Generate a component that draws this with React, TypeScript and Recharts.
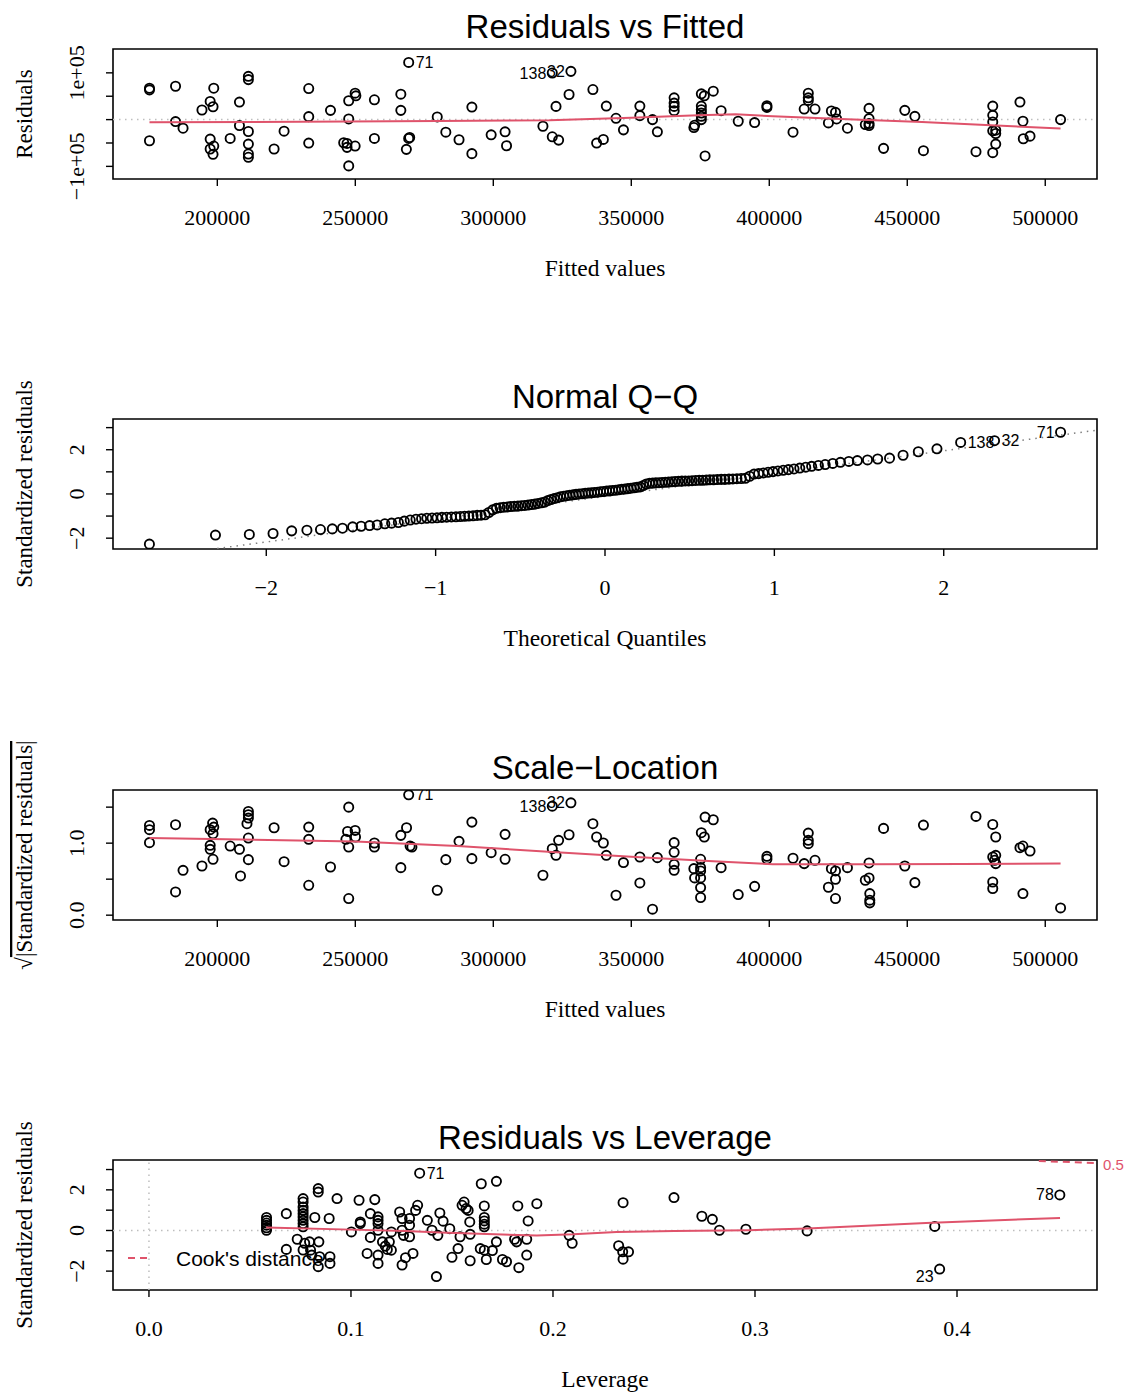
import React from 'react';
import { ScatterChart, Scatter, XAxis, YAxis, ReferenceLine, ReferenceArea } from 'recharts';

const SERIF = '"Liberation Serif", "Times New Roman", serif';
const SANS = '"Liberation Sans", Arial, sans-serif';
const RED = '#DF536B';

// ---------- Panel 1: Residuals vs Fitted ----------
const fittedTicks = [200000, 250000, 300000, 350000, 400000, 450000, 500000];
const residTicks = [-100000, -50000, 0, 50000, 100000];
const residPoints: [number, number][] = [
  [175420, 67137], [175420, 63603], [175420, -45229],
  [184864, 71377], [184864, -4240], [187580, -18374],
  [194437, 20494], [197413, 38869], [198706, 67137], [198447, 27564], [197413, -41695], [197413, -62896], [198706, -56536], [198447, -74204],
  [204657, -40282], [208021, 37455], [208021, -12721],
  [211255, 92578], [211255, 85511], [211255, -25441], [211255, -52296], [211255, -73497], [211255, -80564],
  [220570, -62896], [224192, -24735],
  [233119, 6360], [233119, 66430], [233119, -50176],
  [241010, 19788],
  [247609, 40282], [247609, 1413], [245800, -49469], [247000, -50883], [247000, -59363], [249936, -56536], [247609, -98938], [249936, 56536], [250200, 50883],
  [256922, 42402], [256922, -40282],
  [266496, 54416], [266496, 19788], [268500, -63603], [269342, -40282], [269700, -38162],
  [279692, 5654], [282796, -26855], [287583, -43109], [292240, 26855], [292240, -72790],
  [299226, -32508], [304272, -26148], [304800, -55830],
  [317985, -14134], [321374, -36748], [322724, 28268], [323670, -43816], [327450, 53709],
  [336092, 64310], [340953, 28975], [337442, -50176], [339873, -42402],
  [344464, 2827], [347164, -21908],
  [353106, 28975], [353106, 8480],
  [357697, 0], [359452, -26148],
  [365528, 46642], [365528, 35335], [365528, 28268], [365528, 19081],
  [372685, -16961], [372955, -12014],
  [375386, 55123], [376466, 50883], [375386, 28975], [375386, 21201], [375386, 14134], [375386, 7067], [375386, 0],
  [376736, -77737], [379706, 60776], [382541, 19081], [388752, -3534], [394693, -6360],
  [399149, 29681], [399149, 26148], [408601, -26855],
  [412652, 22614], [414137, 56536], [414137, 46642], [414137, 40989], [416568, 22614],
  [421430, -7067], [422510, 18374], [423995, 15547], [424400, 1413], [428318, -18374],
  [434799, -10600], [436150, 24028], [436150, 2120], [436150, -8480], [436150, -12721],
  [441416, -61482], [449112, 19788], [452758, 7067], [455864, -66430], [474899, -68550],
  [480975, 28975], [480975, 9187], [480975, -4947], [480975, -24028], [482055, -29681], [482055, -22614], [482055, -52296], [480975, -70670],
  [490832, 37455], [491912, -3534], [492047, -40989], [494478, -35335],
  [505550, 0],
];
const residLabeled = [
  { x: 269342, y: 122259, label: '71', side: 'right' },
  { x: 321374, y: 99646, label: '138', side: 'left' },
  { x: 328125, y: 103178, label: '32', side: 'left' },
];
const residSmooth: [number, number][] = [
  [175420, -5654], [230000, -4800], [280000, -3000], [320300, -1400], [350000, 4000], [374300, 9187],
  [387800, 11307], [401300, 7067], [428300, 707], [455300, -4947], [482300, -12721], [505550, -19081],
];

// ---------- Panel 2: Normal Q-Q ----------
const qqXTicks = [-2, -1, 0, 1, 2];
const qqYTicks = [-2, -1, 0, 1, 2, 3];
const qqTheo = [
  -2.69, -2.30, -2.10, -1.96, -1.85, -1.76, -1.68, -1.61, -1.55, -1.49,
  -1.44, -1.39, -1.345, -1.30, -1.26, -1.22, -1.185, -1.15, -1.116, -1.083,
  -1.052, -1.021, -0.992, -0.963, -0.935, -0.907, -0.880, -0.854, -0.829, -0.804,
  -0.779, -0.755, -0.732, -0.708, -0.686, -0.663, -0.641, -0.619, -0.598, -0.577,
  -0.556, -0.535, -0.514, -0.494, -0.474, -0.454, -0.434, -0.414, -0.395, -0.375,
  -0.356, -0.337, -0.319, -0.300, -0.281, -0.263, -0.244, -0.226, -0.208, -0.189,
  -0.171, -0.153, -0.135, -0.117, -0.099, -0.081, -0.063, -0.045, -0.027, -0.009,
  0.009, 0.027, 0.045, 0.063, 0.081, 0.099, 0.117, 0.135, 0.153, 0.171,
  0.189, 0.208, 0.226, 0.244, 0.263, 0.281, 0.300, 0.319, 0.337, 0.356,
  0.375, 0.395, 0.414, 0.434, 0.454, 0.474, 0.494, 0.514, 0.535, 0.556,
  0.577, 0.598, 0.619, 0.641, 0.663, 0.686, 0.708, 0.732, 0.755, 0.779,
  0.804, 0.829, 0.854, 0.880, 0.907, 0.935, 0.963, 0.992, 1.021, 1.052,
  1.083, 1.116, 1.15, 1.185, 1.22, 1.26, 1.30, 1.345, 1.39, 1.44,
  1.49, 1.55, 1.61, 1.68, 1.76, 1.85, 1.96, 2.10, 2.30, 2.69,
];
const qqStd = [
  -2.27, -1.86, -1.83, -1.79, -1.67, -1.64, -1.61, -1.58, -1.55, -1.49,
  -1.46, -1.43, -1.40, -1.35, -1.32, -1.29, -1.23, -1.18, -1.14, -1.12,
  -1.10, -1.09, -1.08, -1.06, -1.05, -1.04, -1.03, -1.02, -1.01, -1.00,
  -0.99, -0.97, -0.96, -0.94, -0.84, -0.72, -0.65, -0.62, -0.60, -0.59,
  -0.57, -0.56, -0.55, -0.53, -0.52, -0.50, -0.48, -0.46, -0.43, -0.40,
  -0.37, -0.30, -0.25, -0.21, -0.17, -0.13, -0.10, -0.08, -0.06, -0.04,
  -0.02, 0.00, 0.01, 0.03, 0.04, 0.05, 0.07, 0.08, 0.10, 0.11,
  0.13, 0.14, 0.16, 0.17, 0.19, 0.21, 0.22, 0.24, 0.26, 0.28,
  0.30, 0.32, 0.38, 0.45, 0.48, 0.49, 0.50, 0.51, 0.52, 0.53,
  0.54, 0.55, 0.56, 0.57, 0.58, 0.59, 0.59, 0.60, 0.61, 0.62,
  0.62, 0.63, 0.64, 0.64, 0.65, 0.66, 0.66, 0.67, 0.68, 0.69,
  0.70, 0.71, 0.80, 0.90, 0.92, 0.95, 0.98, 1.01, 1.04, 1.07,
  1.10, 1.13, 1.17, 1.21, 1.25, 1.29, 1.33, 1.38, 1.43, 1.47,
  1.51, 1.54, 1.58, 1.62, 1.75, 1.91, 2.04, 2.33, 2.41, 2.79,
];
const qqLabels = [
  { index: 137, label: '138', side: 'right' },
  { index: 138, label: '32', side: 'right' },
  { index: 139, label: '71', side: 'left' },
];
const qqLine: [number, number][] = [[-2.29, -2.47], [2.90, 2.88]];

// ---------- Panel 3: Scale-Location ----------
const sqrtTicks = [0, 0.5, 1, 1.5];
const sqrtPoints: [number, number][] = [
  [175420, 1.246], [175420, 1.187], [175420, 1.007],
  [184864, 1.256], [184864, 0.323], [187580, 0.623], [194437, 0.683],
  [197413, 1.187], [198300, 1.279], [198706, 1.223], [198447, 1.131], [197413, 0.97], [197413, 0.914], [198447, 0.776],
  [204657, 0.96], [208021, 0.914], [208400, 0.545],
  [211255, 1.44], [211255, 1.394], [211255, 1.348], [210740, 1.27], [211255, 1.071], [211255, 0.771],
  [220570, 1.214], [224192, 0.743],
  [233119, 0.415], [233119, 1.223], [233119, 1.053], [241010, 0.669],
  [247609, 1.50], [247200, 1.163], [246600, 1.053], [247609, 0.946], [247609, 0.231],
  [249936, 1.177], [250066, 1.085], [256922, 1.002], [256922, 0.946],
  [266496, 1.108], [268566, 1.214], [266496, 0.66], [269860, 0.96], [270507, 0.946],
  [279692, 0.346], [282796, 0.771], [287583, 1.025], [292240, 1.292], [292240, 0.785],
  [299226, 0.868], [304272, 1.122], [304272, 0.776], [317985, 0.554],
  [321374, 0.923], [322724, 0.831], [323670, 1.039], [327450, 1.117],
  [336092, 1.27], [337442, 1.085], [339873, 1.002], [340953, 0.831],
  [344464, 0.277], [347164, 0.73], [353106, 0.808], [353106, 0.448],
  [357697, 0.083], [359452, 0.799],
  [365528, 1.007], [365528, 0.873], [365528, 0.706], [365528, 0.623],
  [372685, 0.646], [372955, 0.517], [376736, 1.362], [379706, 1.325],
  [375386, 1.145], [376466, 1.085],
  [375116, 0.776], [375116, 0.66], [375116, 0.614], [375116, 0.517], [375116, 0.383], [375116, 0.245],
  [382541, 0.66], [388752, 0.286], [394693, 0.40], [399149, 0.817], [399149, 0.78], [408601, 0.79],
  [412652, 0.716], [414137, 1.14], [414137, 1.039], [414137, 0.993], [416568, 0.762],
  [421430, 0.388], [422510, 0.646], [423995, 0.614], [423995, 0.499], [423995, 0.231], [428318, 0.66],
  [434799, 0.485], [436150, 0.725], [436150, 0.517], [436420, 0.30], [436420, 0.208], [436420, 0.171],
  [441416, 1.205], [449112, 0.683], [452758, 0.452], [455864, 1.251], [474899, 1.371],
  [480975, 1.26], [482055, 1.085], [480975, 0.808], [482055, 0.831], [481650, 0.762], [482055, 0.716], [480975, 0.461], [480975, 0.37],
  [490832, 0.937], [491912, 0.96], [494478, 0.891], [491912, 0.30],
  [505550, 0.101],
];
const sqrtLabeled = [
  { x: 269342, y: 1.671, label: '71', side: 'right' },
  { x: 321374, y: 1.514, label: '138', side: 'left' },
  { x: 328125, y: 1.56, label: '32', side: 'left' },
];
const sqrtSmooth: [number, number][] = [
  [175420, 1.071], [250000, 1.022], [287000, 0.96], [321400, 0.877], [350000, 0.81], [379700, 0.748],
  [401300, 0.708], [436000, 0.706], [470000, 0.712], [505550, 0.716],
];

// ---------- Panel 4: Residuals vs Leverage ----------
const levTicks = [0, 0.1, 0.2, 0.3, 0.4];
const levPoints: [number, number][] = [
  [0.0582, 0.64], [0.0582, 0.50], [0.0582, 0.37], [0.0582, 0.26], [0.0582, 0.13], [0.0582, 0.01],
  [0.068, 0.83], [0.068, -0.93], [0.0734, -0.43],
  [0.0763, 1.57], [0.0763, 1.40], [0.0763, 1.16], [0.0763, 0.99], [0.0763, 0.83], [0.0763, 0.67], [0.0763, 0.50], [0.0763, 0.34], [0.0763, 0.18],
  [0.0763, -0.96], [0.0771, -0.63], [0.0795, -0.56], [0.080, -0.97], [0.0806, -1.21],
  [0.0821, 0.64], [0.0838, 2.06], [0.0838, 1.89], [0.0841, -0.56], [0.0845, -1.29], [0.0838, -1.78],
  [0.0892, 0.59], [0.0896, -1.29], [0.0896, -1.62], [0.0931, 1.57], [0.1002, -0.07],
  [0.104, 1.49], [0.1046, 0.34], [0.1046, 0.42], [0.108, -1.13], [0.1096, 0.83], [0.1096, -0.34], [0.1118, 1.52],
  [0.1134, 0.67], [0.1134, 0.50], [0.1134, 0.34], [0.1134, 0.01], [0.1134, -1.21], [0.1134, -1.62],
  [0.1156, -0.56], [0.117, -0.77], [0.118, -0.93], [0.120, -0.97], [0.119, -0.56], [0.120, -0.07],
  [0.1241, 0.91], [0.1253, 0.59], [0.1253, 0.01], [0.126, -0.24], [0.127, -1.34], [0.1253, -1.70],
  [0.129, 0.59], [0.129, 0.26], [0.1307, -1.13], [0.132, 0.99], [0.133, 1.24], [0.129, -0.31],
  [0.1378, 0.50], [0.1401, 0.01], [0.1423, -2.27], [0.144, 0.86], [0.143, -0.24],
  [0.1456, 0.46], [0.1489, 0.09], [0.150, -1.32], [0.153, -0.89], [0.154, -0.31],
  [0.155, 1.24], [0.156, 1.40], [0.157, 1.08], [0.158, 0.99], [0.1588, 0.42], [0.159, -0.19], [0.159, -1.49],
  [0.1645, 2.30], [0.172, 2.42], [0.166, 1.21], [0.166, 0.64], [0.166, 0.47], [0.166, 0.31], [0.166, 0.18],
  [0.164, -0.89], [0.166, -0.97], [0.167, -1.43], [0.172, -0.56], [0.170, -0.99],
  [0.175, -1.43], [0.177, -1.54], [0.181, -0.43], [0.182, -0.56], [0.1826, 1.21], [0.1831, -1.83],
  [0.187, -0.43], [0.187, -1.21], [0.1877, 0.47], [0.192, 1.32],
  [0.208, -0.24], [0.2095, -0.63],
  [0.2325, -0.75], [0.2345, -1.05], [0.2347, -1.41], [0.2374, -1.05], [0.2347, 1.37],
  [0.2599, 1.62], [0.2737, 0.70], [0.2789, 0.55], [0.2824, 0.01], [0.2955, 0.06], [0.3258, -0.02],
  [0.389, 0.20],
];
const levLabeled = [
  { x: 0.134, y: 2.82, label: '71', side: 'right', dy: 0 },
  { x: 0.3914, y: -1.90, label: '23', side: 'left', dy: 7 },
  { x: 0.4509, y: 1.75, label: '78', side: 'left', dy: 0 },
];
const levSmooth: [number, number][] = [
  [0.058, 0.15], [0.105, 0.03], [0.127, -0.02], [0.144, -0.10], [0.175, -0.20], [0.192, -0.25],
  [0.21, -0.19], [0.2315, -0.07], [0.26, -0.03], [0.297, 0.01], [0.326, 0.10], [0.3846, 0.37], [0.451, 0.62],
];
const cookContour: [number, number][] = [[0.4405, 3.42], [0.469, 3.32]];

// ---------- helpers ----------
const W = 1134;
const PLOT_TOP = 49;
const PLOT_H = 130;
const LEFT = 113;
const CHART_H = 300;
const XAXIS_H = 100;

const toXY = (arr: [number, number][]) => arr.map(([x, y]) => ({ x, y }));

const Ring = (p: any) => (
  <circle cx={p.cx} cy={p.cy} r={4.6} fill="none" stroke="#000" strokeWidth={1.85} />
);
const Nothing = () => <g />;

const LabeledRing = (p: any) => {
  const d = p.payload || {};
  const left = d.side === 'left';
  return (
    <g>
      {d.noRing ? null : <circle cx={p.cx} cy={p.cy} r={4.6} fill="none" stroke="#000" strokeWidth={1.85} />}
      <text
        x={p.cx + (left ? -6 : 7)}
        y={p.cy + (d.dy || 0)}
        textAnchor={left ? 'end' : 'start'}
        dominantBaseline="central"
        fontFamily={SANS}
        fontSize={16}
        fill="#000"
      >
        {d.label}
      </text>
    </g>
  );
};

const minus = (s: string) => s.replace('-', '\u2212');

type PanelProps = {
  top: number;
  title: string;
  xTitle: string;
  yTitle: React.ReactNode;
  xDomain: [number, number];
  yDomain: [number, number];
  xTicks: number[];
  yTicks: number[];
  xFmt: (v: number) => string;
  yFmt: (v: number) => string;
  overlay?: React.ReactNode;
  children: React.ReactNode;
};

function Panel(props: PanelProps) {
  const { top, title, xTitle, yTitle, xDomain, yDomain, xTicks, yTicks, xFmt, yFmt, overlay, children } = props;
  const bottom = PLOT_TOP + PLOT_H;
  const yMid = PLOT_TOP + PLOT_H / 2;
  return (
    <div style={{ position: 'absolute', left: 0, top, width: W, height: 370 }}>
      <svg style={{ position: 'absolute', left: 0, top: 0, pointerEvents: 'none' }} width={W} height={370}>
        <text x={605} y={PLOT_TOP - 11} textAnchor="middle" fontFamily={SANS} fontSize={33} fill="#000">
          {title}
        </text>
        <text x={605} y={bottom + 97} textAnchor="middle" fontFamily={SERIF} fontSize={23.5} fill="#000">
          {xTitle}
        </text>
        <text
          x={32}
          y={yMid}
          transform={`rotate(-90 32 ${yMid})`}
          textAnchor="middle"
          fontFamily={SERIF}
          fontSize={23}
          fill="#000"
        >
          {yTitle}
        </text>
        {overlay}
      </svg>
      <ScatterChart
        width={W}
        height={CHART_H}
        margin={{ top: PLOT_TOP, right: 37, bottom: CHART_H - PLOT_TOP - PLOT_H - XAXIS_H, left: 0 }}
      >
        <XAxis
          type="number"
          dataKey="x"
          domain={xDomain}
          ticks={xTicks}
          allowDataOverflow
          interval={0}
          axisLine={false}
          tickLine={{ stroke: '#000', strokeWidth: 1.4 }}
          tickSize={7}
          tickMargin={0}
          height={XAXIS_H}
          tick={(p: any) => (
            <text x={p.x} y={p.y + 39} textAnchor="middle" fontFamily={SERIF} fontSize={22} fill="#000">
              {xFmt(p.payload.value)}
            </text>
          )}
        />
        <YAxis
          type="number"
          dataKey="y"
          domain={yDomain}
          ticks={yTicks}
          allowDataOverflow
          interval={0}
          axisLine={false}
          tickLine={{ stroke: '#000', strokeWidth: 1.4 }}
          tickSize={7}
          tickMargin={0}
          width={LEFT}
          tick={(p: any) => {
            const tx = p.x - 22;
            return (
              <text
                x={tx}
                y={p.y}
                transform={`rotate(-90 ${tx} ${p.y})`}
                textAnchor="middle"
                fontFamily={SERIF}
                fontSize={22}
                fill="#000"
              >
                {yFmt(p.payload.value)}
              </text>
            );
          }}
        />
        {children}
        <ReferenceArea
          x1={xDomain[0]}
          x2={xDomain[1]}
          y1={yDomain[0]}
          y2={yDomain[1]}
          fill="none"
          fillOpacity={0}
          stroke="#000"
          strokeWidth={1.6}
          ifOverflow="visible"
        />
      </ScatterChart>
    </div>
  );
}

const fmtInt = (v: number) => String(v);

export default function App() {
  const qqData = qqTheo.map((x, i) => ({ x, y: qqStd[i] }));
  const qqLabelData = qqLabels.map((l) => ({ x: qqTheo[l.index], y: qqStd[l.index], label: l.label, side: l.side, noRing: true }));

  return (
    <div style={{ position: 'absolute', left: 0, top: 0, width: W, height: 1396, background: '#fff' }}>
      {/* Panel 1 */}
      <Panel
        top={0}
        title="Residuals vs Fitted"
        xTitle="Fitted values"
        yTitle="Residuals"
        xDomain={[162200, 518750]}
        yDomain={[-127000, 151000]}
        xTicks={fittedTicks}
        yTicks={residTicks}
        xFmt={fmtInt}
        yFmt={(v) => (v === 100000 ? '1e+05' : v === -100000 ? '\u22121e+05' : '')}
      >
        <ReferenceLine y={0} stroke="#BEBEBE" strokeWidth={1.5} strokeDasharray="1.5 4.5" />
        <Scatter data={toXY(residPoints)} shape={Ring} isAnimationActive={false} />
        <Scatter data={residLabeled} shape={LabeledRing} isAnimationActive={false} />
        <Scatter
          data={toXY(residSmooth)}
          shape={Nothing}
          line={{ stroke: RED, strokeWidth: 2 }}
          lineType="joint"
          isAnimationActive={false}
        />
      </Panel>

      {/* Panel 2 */}
      <Panel
        top={370}
        title={'Normal Q\u2212Q'}
        xTitle="Theoretical Quantiles"
        yTitle="Standardized residuals"
        xDomain={[-2.905, 2.905]}
        yDomain={[-2.49, 3.39]}
        xTicks={qqXTicks}
        yTicks={qqYTicks}
        xFmt={(v) => minus(String(v))}
        yFmt={(v) => (v === -2 || v === 0 || v === 2 ? minus(String(v)) : '')}
      >
        <Scatter
          data={toXY(qqLine)}
          shape={Nothing}
          line={{ stroke: '#7F7F7F', strokeWidth: 1.5, strokeDasharray: '1.5 5' }}
          lineType="joint"
          isAnimationActive={false}
        />
        <Scatter data={qqData} shape={Ring} isAnimationActive={false} />
        <Scatter data={qqLabelData} shape={LabeledRing} isAnimationActive={false} />
      </Panel>

      {/* Panel 3 */}
      <Panel
        top={741}
        title={'Scale\u2212Location'}
        xTitle="Fitted values"
        yTitle={
          <>
            {'\u221A'}
            <tspan style={{ textDecoration: 'overline' }}>|Standardized residuals|</tspan>
          </>
        }
        xDomain={[162200, 518750]}
        yDomain={[-0.067, 1.738]}
        xTicks={fittedTicks}
        yTicks={sqrtTicks}
        xFmt={fmtInt}
        yFmt={(v) => (v === 0 ? '0.0' : v === 1 ? '1.0' : '')}
      >
        <Scatter data={toXY(sqrtPoints)} shape={Ring} isAnimationActive={false} />
        <Scatter data={sqrtLabeled} shape={LabeledRing} isAnimationActive={false} />
        <Scatter
          data={toXY(sqrtSmooth)}
          shape={Nothing}
          line={{ stroke: RED, strokeWidth: 2 }}
          lineType="joint"
          isAnimationActive={false}
        />
      </Panel>

      {/* Panel 4 */}
      <Panel
        top={1111}
        title="Residuals vs Leverage"
        xTitle="Leverage"
        yTitle="Standardized residuals"
        xDomain={[-0.0178, 0.4693]}
        yDomain={[-2.93, 3.47]}
        xTicks={levTicks}
        yTicks={qqYTicks}
        xFmt={(v) => v.toFixed(1)}
        yFmt={(v) => (v === -2 || v === 0 || v === 2 ? minus(String(v)) : '')}
        overlay={
          <g>
            <line x1={128} y1={147} x2={152} y2={147} stroke={RED} strokeWidth={2} strokeDasharray="7 5" />
            <text x={176} y={155} fontFamily={SANS} fontSize={21} fill="#000">
              Cook's distance
            </text>
            <text x={1103} y={53} dominantBaseline="central" fontFamily={SANS} fontSize={15} fill={RED}>
              0.5
            </text>
          </g>
        }
      >
        <ReferenceLine y={0} stroke="#BEBEBE" strokeWidth={1.5} strokeDasharray="1.5 4.5" />
        <ReferenceLine x={0} stroke="#BEBEBE" strokeWidth={1.5} strokeDasharray="1.5 4.5" />
        <Scatter data={toXY(levPoints)} shape={Ring} isAnimationActive={false} />
        <Scatter data={levLabeled} shape={LabeledRing} isAnimationActive={false} />
        <Scatter
          data={toXY(levSmooth)}
          shape={Nothing}
          line={{ stroke: RED, strokeWidth: 2 }}
          lineType="joint"
          isAnimationActive={false}
        />
        <Scatter
          data={toXY(cookContour)}
          shape={Nothing}
          line={{ stroke: RED, strokeWidth: 2, strokeDasharray: '7 5' }}
          lineType="joint"
          isAnimationActive={false}
        />
      </Panel>
    </div>
  );
}
